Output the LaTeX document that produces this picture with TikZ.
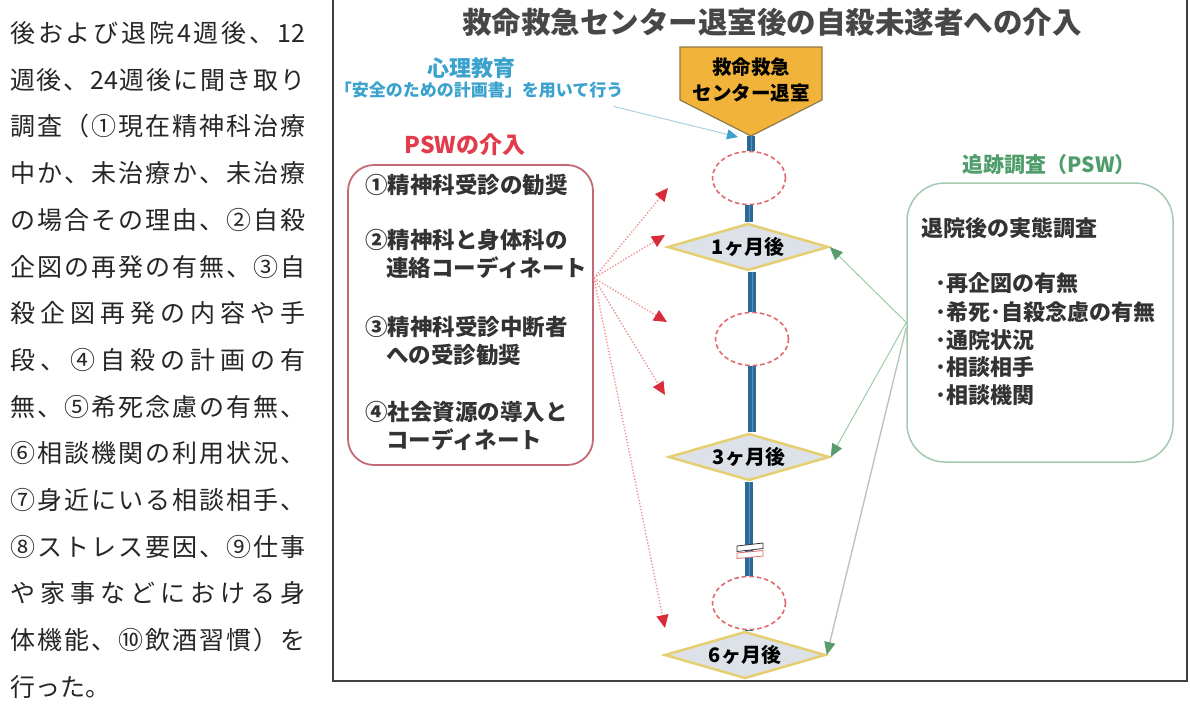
\documentclass[tikz,border=0pt]{standalone}
\usepackage{fontspec}
\setmainfont{Noto Sans CJK JP}
\usetikzlibrary{shapes.geometric,arrows.meta,calc}
\definecolor{tlblue}{HTML}{2B6A98}
\definecolor{tlhi}{HTML}{5A90BA}
\definecolor{gold}{HTML}{F2B33A}
\definecolor{goldedge}{HTML}{8C7A4A}
\definecolor{diafill}{HTML}{DCE2E8}
\definecolor{diaedge}{HTML}{E6CF72}
\definecolor{elled}{HTML}{E26A6E}
\definecolor{pswred}{HTML}{E13C4B}
\definecolor{pswedge}{HTML}{C46A76}
\definecolor{redtip}{HTML}{D92B3A}
\definecolor{redline}{HTML}{F08C8C}
\definecolor{grntxt}{HTML}{4E9D6A}
\definecolor{grnedge}{HTML}{A3C9AE}
\definecolor{grntip}{HTML}{5A9D6C}
\definecolor{grnline}{HTML}{93CBA0}
\definecolor{grngray}{HTML}{B9C6BC}
\definecolor{psyblue}{HTML}{3AA2CD}
\definecolor{psyline}{HTML}{A9D2E2}
\definecolor{darktxt}{HTML}{333333}
\definecolor{titletxt}{HTML}{474747}
\definecolor{bodytxt}{HTML}{262626}
\def\spreadstopmark{\relax}
\newcommand\spreadrest[1]{\def\spreadtmp{#1}\ifx\spreadtmp\spreadstopmark\else\hfill#1\expandafter\spreadrest\fi}
\newcommand\spreadfirst[1]{#1\spreadrest}
\newcommand\spreadline[1]{\makebox[295pt][l]{\spreadfirst#1{\relax}}}
\begin{document}
\begin{tikzpicture}[x=1pt,y=-1pt,
  bodyline/.style={anchor=west,inner sep=0pt,text=bodytxt,font=\fontsize{25}{25}\selectfont},
  titlestyle/.style={inner sep=0pt,text=titletxt,font=\bfseries\fontsize{29.5}{30}\selectfont},
  ell/.style={ellipse,draw=elled,dash pattern=on 4.5pt off 3pt,line width=1.6pt,fill=white,minimum width=73pt,minimum height=53pt,inner sep=0pt},
  dia/.style={diamond,draw=diaedge,line width=2.5pt,fill=diafill,minimum width=161pt,minimum height=47pt,aspect=3.4,inner sep=0pt,font=\bfseries\fontsize{20}{20}\selectfont},
  tl/.style={draw=tlhi,line width=1pt,preaction={draw=tlblue,line width=8pt}},
  pswtxt/.style={anchor=west,inner sep=0pt,text=darktxt,font=\bfseries\fontsize{22.5}{23}\selectfont},
  grntxtstyle/.style={anchor=west,inner sep=0pt,text=darktxt,font=\bfseries\fontsize{22}{22}\selectfont},
  redarr/.style={draw=redline,line width=1.3pt,dash pattern=on 1.3pt off 1.8pt,-{Triangle[length=13pt,width=12pt,color=redtip]}},
  grnarr/.style={draw=grnline,line width=0.9pt,-{Triangle[length=13pt,width=11pt,color=grntip]}},
  bluearr/.style={draw=psyline,line width=1pt,-{Triangle[length=11pt,width=10pt,color=psyblue]}},
  brk/.style={fill=white,line width=0.8pt}
]
\useasboundingbox (0,0) rectangle (1190,720);
\clip (0,0) rectangle (1190,720);
\fill[white] (0,0) rectangle (1190,720);
% left text column
\node[bodyline] (b1) at (10,33) {\spreadline{後および退院{4}週後、{12}}};
\node[bodyline] (b2) at (10,79.7) {\spreadline{週後、{24}週後に聞き取り}};
\node[bodyline] (b3) at (10,126.4) {\spreadline{調査（①現在精神科治療}};
\node[bodyline] (b4) at (10,173.1) {\spreadline{中か、未治療か、未治療}};
\node[bodyline] (b5) at (10,219.8) {\spreadline{の場合その理由、②自殺}};
\node[bodyline] (b6) at (10,266.5) {\spreadline{企図の再発の有無、③自}};
\node[bodyline] (b7) at (10,313.2) {\spreadline{殺企図再発の内容や手}};
\node[bodyline] (b8) at (10,359.9) {\spreadline{段、④自殺の計画の有}};
\node[bodyline] (b9) at (10,406.6) {\spreadline{無、⑤希死念慮の有無、}};
\node[bodyline] (b10) at (10,453.3) {\spreadline{⑥相談機関の利用状況、}};
\node[bodyline] (b11) at (10,500) {\spreadline{⑦身近にいる相談相手、}};
\node[bodyline] (b12) at (10,546.7) {\spreadline{⑧ストレス要因、⑨仕事}};
\node[bodyline] (b13) at (10,593.4) {\spreadline{や家事などにおける身}};
\node[bodyline] (b14) at (10,640.1) {\spreadline{体機能、⑩飲酒習慣）を}};
\node[bodyline] (b15) at (10,687) {行った。};
% frame
\draw[line width=1.8pt,color=black!75] (333,-10) rectangle (1187,681);
% title
\node[titlestyle] (title) at (772,22) {救命救急センター退室後の自殺未遂者への介入};
% psycho-education
\node[inner sep=0pt,text=psyblue,font=\bfseries\fontsize{22}{22}\selectfont] (psy) at (471,68) {心理教育};
\node[inner sep=0pt,text=psyblue,font=\bfseries\fontsize{17}{17}\selectfont] (psysub) at (479,90) {「安全のための計画書」を用いて行う};
% top pentagon
\draw[fill=gold,draw=goldedge,line width=1.2pt] (680,47) -- (822,47) -- (822,100) -- (751,136) -- (680,100) -- cycle;
\node[inner sep=0pt,align=center,font=\bfseries\fontsize{19.5}{26}\selectfont] (top) at (751,80) {救命救急\\センター退室};
\coordinate (toptip) at (751,136);
% timeline elements
\node[ell] (e1) at (749,178) {};
\node[dia] (d1) at (748,247) {1ヶ月後};
\node[ell] (e2) at (752,339) {};
\node[dia] (d2) at (749,457) {3ヶ月後};
\node[ell] (e3) at (749,603) {};
\node[dia] (d3) at (745,655) {6ヶ月後};
\draw[tl] (toptip) -- (toptip |- e1.north);
\draw[tl] (e1.south) -- (e1.south |- d1.north);
\draw[tl] (d1.south -| e2.north) -- (e2.north);
\draw[tl] (e2.south) -- (e2.south |- d2.north);
\draw[tl] (d2.south -| e3.north) -- (e3.north);
\draw[tl] (e3.south) -- (e3.south |- d3.north);
% break marks
\draw[brk,draw=black!80] (737,546) -- (763,543) -- (763,548.5) -- (737,551.5) -- cycle;
\draw[brk,draw=elled] (737,553) -- (763,550.5) -- (763,556) -- (737,558.5) -- cycle;
% blue arrow
\coordinate (bluetip) at (738,137);
\draw[bluearr] ([xshift=-10pt,yshift=-8pt]psysub.south east) -- (bluetip);
% PSW
\node[inner sep=0pt,text=pswred,font=\bfseries\fontsize{23}{23}\selectfont] (pswlab) at (465,145) {PSWの介入};
\node[draw=pswedge,line width=1.8pt,rounded corners=26pt,minimum width=245pt,minimum height=300pt] (psw) at (470.5,315) {};
\node[pswtxt] (p1) at (365,185) {①精神科受診の勧奨};
\node[pswtxt] (p2) at (365,240) {②精神科と身体科の};
\node[pswtxt] (p2b) at (386,268) {連絡コーディネート};
\node[pswtxt] (p3) at (365,327) {③精神科受診中断者};
\node[pswtxt] (p3b) at (386,355) {への受診勧奨};
\node[pswtxt] (p4) at (365,412) {④社会資源の導入と};
\node[pswtxt] (p4b) at (386,440) {コーディネート};
\coordinate (r1) at (668,188);
\coordinate (r2) at (665,235);
\coordinate (r3) at (667,322);
\coordinate (r4) at (665,395);
\coordinate (r5) at (665,628);
\foreach \t in {r1,r2,r3,r4,r5}
  \draw[redarr] ([yshift=37pt]psw.east) -- (\t);
% follow-up
\node[inner sep=0pt,text=grntxt,font=\bfseries\fontsize{21}{21}\selectfont] (grnlab) at (1049,165) {追跡調査（PSW）};
\node[draw=grnedge,line width=1.5pt,rounded corners=38pt,minimum width=266pt,minimum height=279pt] (grn) at (1040,322.5) {};
\node[grntxtstyle] (g0) at (921,228) {退院後の実態調査};
\node[grntxtstyle] (g1) at (935,283) {･再企図の有無};
\node[grntxtstyle] (g2) at (935,312) {･希死･自殺念慮の有無};
\node[grntxtstyle] (g3) at (935,340) {･通院状況};
\node[grntxtstyle] (g4) at (935,367) {･相談相手};
\node[grntxtstyle] (g5) at (935,395) {･相談機関};
\draw[grnarr] (grn.west) -- (d1.east);
\draw[grnarr] (grn.west) -- (d2.east);
\draw[grnarr,draw=grngray,line width=1.4pt] ([yshift=-5pt]grn.west) -- (d3.east);
\end{tikzpicture}
\end{document}
